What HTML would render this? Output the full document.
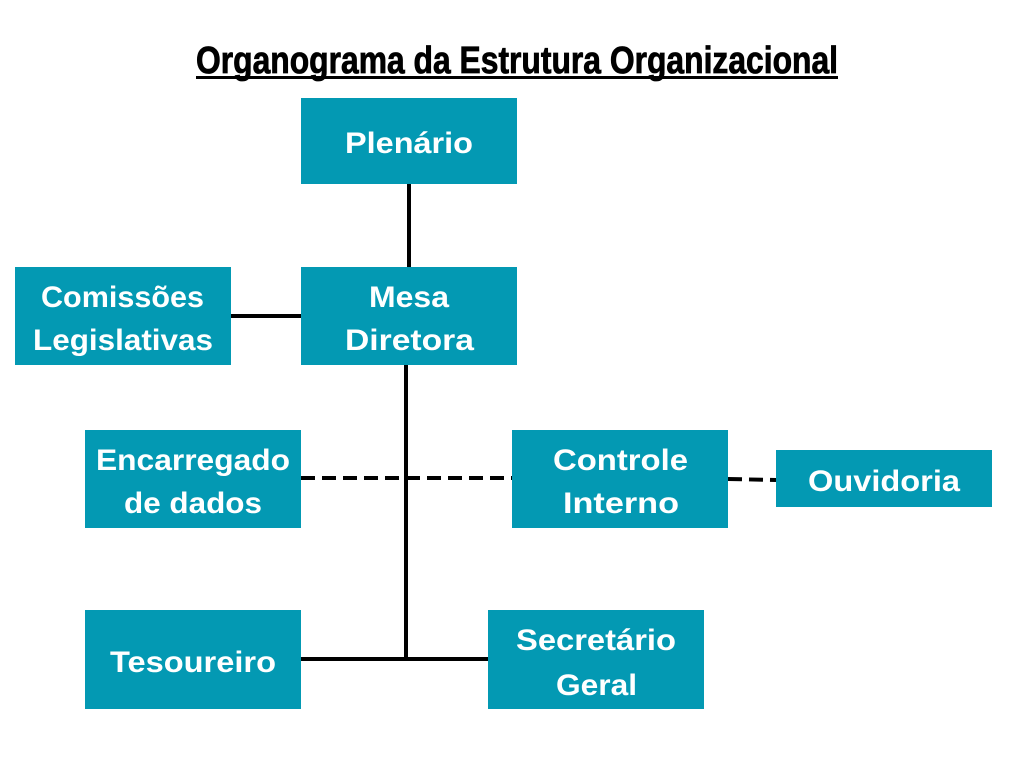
<!DOCTYPE html>
<html><head><meta charset="utf-8"><style>
html,body{margin:0;padding:0;background:#fff;width:1024px;height:768px;overflow:hidden}
svg text{font-family:"Liberation Sans",sans-serif;font-weight:bold;fill:#fff;font-size:30px}
</style></head><body>
<svg width="1024" height="768" viewBox="0 0 1024 768">
<g stroke="#000" stroke-width="4" fill="none">
<line x1="409" y1="184" x2="409" y2="267"/>
<line x1="231" y1="316" x2="301" y2="316"/>
<line x1="406" y1="365" x2="406" y2="661"/>
<line x1="301" y1="659" x2="488" y2="659"/>
<line x1="301" y1="478" x2="512" y2="478" stroke-dasharray="14,7"/>
<line x1="728" y1="479" x2="776" y2="480" stroke-dasharray="14,7"/>
</g>
<g fill="#0399b3">
<rect x="301" y="98" width="216" height="86"/>
<rect x="301" y="267" width="216" height="98"/>
<rect x="15" y="267" width="216" height="98"/>
<rect x="85" y="430" width="216" height="98"/>
<rect x="512" y="430" width="216" height="98"/>
<rect x="776" y="450" width="216" height="57"/>
<rect x="85" y="610" width="216" height="99"/>
<rect x="488" y="610" width="216" height="99"/>
</g>
<text x="196" y="73" textLength="642" lengthAdjust="spacingAndGlyphs" style="fill:#000;font-size:38px;stroke:#000;stroke-width:0.8">Organograma da Estrutura Organizacional</text>
<rect x="196" y="76" width="642" height="3" fill="#000"/>
<text x="345" y="153" textLength="128" lengthAdjust="spacingAndGlyphs">Plenário</text>
<text x="369" y="307" textLength="80" lengthAdjust="spacingAndGlyphs">Mesa</text>
<text x="345" y="350" textLength="129" lengthAdjust="spacingAndGlyphs">Diretora</text>
<text x="41" y="307" textLength="163" lengthAdjust="spacingAndGlyphs">Comissões</text>
<text x="33" y="350" textLength="180" lengthAdjust="spacingAndGlyphs">Legislativas</text>
<text x="96" y="470" textLength="194" lengthAdjust="spacingAndGlyphs">Encarregado</text>
<text x="124" y="513" textLength="138" lengthAdjust="spacingAndGlyphs">de dados</text>
<text x="553" y="470" textLength="135" lengthAdjust="spacingAndGlyphs">Controle</text>
<text x="563" y="513" textLength="116" lengthAdjust="spacingAndGlyphs">Interno</text>
<text x="808" y="491" textLength="152" lengthAdjust="spacingAndGlyphs">Ouvidoria</text>
<text x="110" y="672" textLength="166" lengthAdjust="spacingAndGlyphs">Tesoureiro</text>
<text x="516" y="650" textLength="160" lengthAdjust="spacingAndGlyphs">Secretário</text>
<text x="556" y="695" textLength="81" lengthAdjust="spacingAndGlyphs">Geral</text>
</svg>
</body></html>
